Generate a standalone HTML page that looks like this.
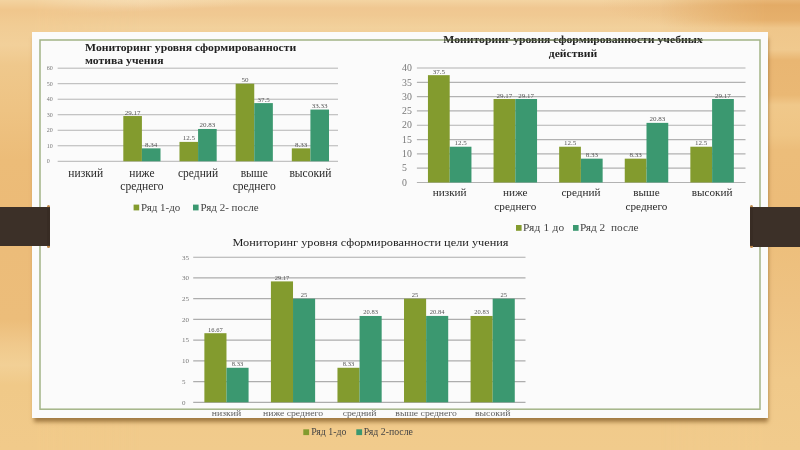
<!DOCTYPE html>
<html><head><meta charset="utf-8"><title>slide</title>
<style>
html,body{margin:0;padding:0;}
body{width:800px;height:450px;overflow:hidden;position:relative;font-family:"Liberation Serif",serif;
background:
 radial-gradient(ellipse 200px 30px at 800px 4px, rgba(214,150,72,0.35), rgba(214,150,72,0) 100%),
 radial-gradient(ellipse 260px 14px at 0px 0px, rgba(250,232,200,0.8), rgba(250,232,200,0) 100%),
 linear-gradient(180deg, #f4d4a2 0px, #f0c791 8px, #f0c992 15px, #f2d19c 28px, #efc98e 45px, #eec487 90px, #ecbf7e 170px, #edc182 250px, #f0c888 330px, #f1ca8a 400px, #f1cb8c 450px);
}
.paper{position:absolute;left:32px;top:32px;width:736px;height:386.3px;background:#fbfbfb;box-shadow:1px 5px 4px -1px rgba(110,70,20,0.6);}
.frame{position:absolute;left:39px;top:39px;width:722px;height:371.2px;border:1.8px solid #aebd95;box-sizing:border-box;}
.ls,.rs{position:absolute;top:0;height:450px;width:140px;}
.ls{left:0;background:linear-gradient(180deg,#f3d3a0 0,#f0c68c 10px,#f1cc94 25px,#f2d09a 45px,#efc88c 65px,#eec383 110px,#ecbc78 160px,#ecbb77 207px,#ecbc79 247px,#ecbd7a 320px,#f0c98c 345px,#f2d096 365px,#f0c988 385px,#f1ca8a 450px);-webkit-mask-image:linear-gradient(90deg,#000 0,#000 34px,transparent 140px);mask-image:linear-gradient(90deg,#000 0,#000 34px,transparent 140px);}
.rs{right:0;background:linear-gradient(180deg,#e8b676 0,#e3ab66 5px,#e6b06c 20px,#efc68a 28px,#f0c98e 50px,#e9b672 60px,#eab874 95px,#f0c88a 105px,#efc585 135px,#ecbd7a 150px,#ecbc79 207px,#edbf7c 247px,#eec282 300px,#f0c98a 380px,#f1cb8c 450px);-webkit-mask-image:linear-gradient(270deg,#000 0,#000 34px,transparent 140px);mask-image:linear-gradient(270deg,#000 0,#000 34px,transparent 140px);}
.tab{position:absolute;background:#3c3028;}
.cap{position:absolute;width:3px;height:42.5px;border-radius:1.5px;background:linear-gradient(180deg,#c08a4c 0,#c08a4c 1.6px,#382c24 2.6px,#382c24 calc(100% - 2.6px),#c08a4c calc(100% - 1.6px),#c08a4c 100%);}
.t{position:absolute;white-space:pre;line-height:1;}
svg{position:absolute;left:0;top:0;}
</style></head><body>
<div class="ls"></div><div class="rs"></div>
<div class="paper"></div>

<svg width="800" height="450" viewBox="0 0 800 450" font-family="Liberation Serif, serif" style="white-space:pre;filter:blur(0.4px)">
<rect x="40" y="40" width="720" height="369.2" fill="none" stroke="#a3b487" stroke-width="1.5"/>
<line x1="57.65" y1="161.30" x2="338.00" y2="161.30" stroke="#b4b4b4" stroke-width="1"/>
<line x1="57.65" y1="145.78" x2="338.00" y2="145.78" stroke="#b4b4b4" stroke-width="1"/>
<line x1="57.65" y1="130.26" x2="338.00" y2="130.26" stroke="#b4b4b4" stroke-width="1"/>
<line x1="57.65" y1="114.74" x2="338.00" y2="114.74" stroke="#b4b4b4" stroke-width="1"/>
<line x1="57.65" y1="99.22" x2="338.00" y2="99.22" stroke="#b4b4b4" stroke-width="1"/>
<line x1="57.65" y1="83.70" x2="338.00" y2="83.70" stroke="#b4b4b4" stroke-width="1"/>
<line x1="57.65" y1="68.18" x2="338.00" y2="68.18" stroke="#b4b4b4" stroke-width="1"/>
<rect x="123.31" y="116.03" width="18.60" height="45.27" fill="#839b2e"/>
<rect x="141.91" y="148.36" width="18.60" height="12.94" fill="#3b9870"/>
<rect x="179.48" y="141.90" width="18.60" height="19.40" fill="#839b2e"/>
<rect x="198.08" y="128.97" width="18.60" height="32.33" fill="#3b9870"/>
<rect x="235.65" y="83.70" width="18.60" height="77.60" fill="#839b2e"/>
<rect x="254.25" y="103.10" width="18.60" height="58.20" fill="#3b9870"/>
<rect x="291.81" y="148.37" width="18.60" height="12.93" fill="#839b2e"/>
<rect x="310.41" y="109.57" width="18.60" height="51.73" fill="#3b9870"/>
<text x="46.80" y="163.30" font-size="6" text-anchor="start" font-weight="normal" fill="#777" letter-spacing="0" >0</text>
<text x="46.80" y="147.78" font-size="6" text-anchor="start" font-weight="normal" fill="#777" letter-spacing="0" >10</text>
<text x="46.80" y="132.26" font-size="6" text-anchor="start" font-weight="normal" fill="#777" letter-spacing="0" >20</text>
<text x="46.80" y="116.74" font-size="6" text-anchor="start" font-weight="normal" fill="#777" letter-spacing="0" >30</text>
<text x="46.80" y="101.22" font-size="6" text-anchor="start" font-weight="normal" fill="#777" letter-spacing="0" >40</text>
<text x="46.80" y="85.70" font-size="6" text-anchor="start" font-weight="normal" fill="#777" letter-spacing="0" >50</text>
<text x="46.80" y="70.18" font-size="6" text-anchor="start" font-weight="normal" fill="#777" letter-spacing="0" >60</text>
<text x="132.60" y="114.53" font-size="7" text-anchor="middle" font-weight="normal" fill="#555" letter-spacing="0" >29.17</text>
<text x="151.21" y="146.86" font-size="7" text-anchor="middle" font-weight="normal" fill="#555" letter-spacing="0" >8.34</text>
<text x="188.78" y="140.40" font-size="7" text-anchor="middle" font-weight="normal" fill="#555" letter-spacing="0" >12.5</text>
<text x="207.38" y="127.47" font-size="7" text-anchor="middle" font-weight="normal" fill="#555" letter-spacing="0" >20.83</text>
<text x="244.94" y="82.20" font-size="7" text-anchor="middle" font-weight="normal" fill="#555" letter-spacing="0" >50</text>
<text x="263.55" y="101.60" font-size="7" text-anchor="middle" font-weight="normal" fill="#555" letter-spacing="0" >37.5</text>
<text x="301.11" y="146.87" font-size="7" text-anchor="middle" font-weight="normal" fill="#555" letter-spacing="0" >8.33</text>
<text x="319.71" y="108.07" font-size="7" text-anchor="middle" font-weight="normal" fill="#555" letter-spacing="0" >33.33</text>
<text x="85.73" y="177.00" font-size="11.5" text-anchor="middle" font-weight="normal" fill="#2a2a2a" letter-spacing="0" >низкий</text>
<text x="141.91" y="177.00" font-size="11.5" text-anchor="middle" font-weight="normal" fill="#2a2a2a" letter-spacing="0" >ниже</text>
<text x="141.91" y="189.50" font-size="11.5" text-anchor="middle" font-weight="normal" fill="#2a2a2a" letter-spacing="0" >среднего</text>
<text x="198.08" y="177.00" font-size="11.5" text-anchor="middle" font-weight="normal" fill="#2a2a2a" letter-spacing="0" >средний</text>
<text x="254.25" y="177.00" font-size="11.5" text-anchor="middle" font-weight="normal" fill="#2a2a2a" letter-spacing="0" >выше</text>
<text x="254.25" y="189.50" font-size="11.5" text-anchor="middle" font-weight="normal" fill="#2a2a2a" letter-spacing="0" >среднего</text>
<text x="310.41" y="177.00" font-size="11.5" text-anchor="middle" font-weight="normal" fill="#2a2a2a" letter-spacing="0" >высокий</text>
<text transform="translate(85.00 50.80) scale(1.045 1)" x="0" y="0" font-size="11.2" text-anchor="start" font-weight="bold" fill="#222" letter-spacing="0" >Мониторинг уровня сформированности</text>
<text transform="translate(85.00 63.80) scale(1.045 1)" x="0" y="0" font-size="11.2" text-anchor="start" font-weight="bold" fill="#222" letter-spacing="0" >мотива учения</text>
<rect x="133.6" y="204.6" width="5.6" height="5.8" fill="#839b2e"/>
<text x="141.00" y="210.60" font-size="11" text-anchor="start" font-weight="normal" fill="#444" letter-spacing="0" >Ряд 1-до</text>
<rect x="193" y="204.6" width="5.6" height="5.8" fill="#3b9870"/>
<text x="200.60" y="210.60" font-size="11" text-anchor="start" font-weight="normal" fill="#444" letter-spacing="0" >Ряд 2- после</text>
<line x1="416.90" y1="182.50" x2="745.50" y2="182.50" stroke="#b2b2b2" stroke-width="1.15"/>
<line x1="416.90" y1="168.19" x2="745.50" y2="168.19" stroke="#b2b2b2" stroke-width="1.15"/>
<line x1="416.90" y1="153.88" x2="745.50" y2="153.88" stroke="#b2b2b2" stroke-width="1.15"/>
<line x1="416.90" y1="139.56" x2="745.50" y2="139.56" stroke="#b2b2b2" stroke-width="1.15"/>
<line x1="416.90" y1="125.25" x2="745.50" y2="125.25" stroke="#b2b2b2" stroke-width="1.15"/>
<line x1="416.90" y1="110.94" x2="745.50" y2="110.94" stroke="#b2b2b2" stroke-width="1.15"/>
<line x1="416.90" y1="96.62" x2="745.50" y2="96.62" stroke="#b2b2b2" stroke-width="1.15"/>
<line x1="416.90" y1="82.31" x2="745.50" y2="82.31" stroke="#b2b2b2" stroke-width="1.15"/>
<line x1="416.90" y1="68.00" x2="745.50" y2="68.00" stroke="#b2b2b2" stroke-width="1.15"/>
<rect x="427.95" y="75.16" width="21.75" height="107.34" fill="#839b2e"/>
<rect x="449.70" y="146.72" width="21.75" height="35.78" fill="#3b9870"/>
<rect x="493.55" y="99.00" width="21.75" height="83.50" fill="#839b2e"/>
<rect x="515.30" y="99.00" width="21.75" height="83.50" fill="#3b9870"/>
<rect x="559.15" y="146.72" width="21.75" height="35.78" fill="#839b2e"/>
<rect x="580.90" y="158.66" width="21.75" height="23.84" fill="#3b9870"/>
<rect x="624.75" y="158.66" width="21.75" height="23.84" fill="#839b2e"/>
<rect x="646.50" y="122.87" width="21.75" height="59.63" fill="#3b9870"/>
<rect x="690.35" y="146.72" width="21.75" height="35.78" fill="#839b2e"/>
<rect x="712.10" y="99.00" width="21.75" height="83.50" fill="#3b9870"/>
<text x="402.00" y="185.70" font-size="9.8" text-anchor="start" font-weight="normal" fill="#777" letter-spacing="0" >0</text>
<text x="402.00" y="171.39" font-size="9.8" text-anchor="start" font-weight="normal" fill="#777" letter-spacing="0" >5</text>
<text x="402.00" y="157.07" font-size="9.8" text-anchor="start" font-weight="normal" fill="#777" letter-spacing="0" >10</text>
<text x="402.00" y="142.76" font-size="9.8" text-anchor="start" font-weight="normal" fill="#777" letter-spacing="0" >15</text>
<text x="402.00" y="128.45" font-size="9.8" text-anchor="start" font-weight="normal" fill="#777" letter-spacing="0" >20</text>
<text x="402.00" y="114.14" font-size="9.8" text-anchor="start" font-weight="normal" fill="#777" letter-spacing="0" >25</text>
<text x="402.00" y="99.83" font-size="9.8" text-anchor="start" font-weight="normal" fill="#777" letter-spacing="0" >30</text>
<text x="402.00" y="85.51" font-size="9.8" text-anchor="start" font-weight="normal" fill="#777" letter-spacing="0" >35</text>
<text x="402.00" y="71.20" font-size="9.8" text-anchor="start" font-weight="normal" fill="#777" letter-spacing="0" >40</text>
<text x="438.82" y="73.66" font-size="7" text-anchor="middle" font-weight="normal" fill="#555" letter-spacing="0" >37.5</text>
<text x="460.57" y="145.22" font-size="7" text-anchor="middle" font-weight="normal" fill="#555" letter-spacing="0" >12.5</text>
<text x="504.42" y="97.50" font-size="7" text-anchor="middle" font-weight="normal" fill="#555" letter-spacing="0" >29.17</text>
<text x="526.17" y="97.50" font-size="7" text-anchor="middle" font-weight="normal" fill="#555" letter-spacing="0" >29.17</text>
<text x="570.02" y="145.22" font-size="7" text-anchor="middle" font-weight="normal" fill="#555" letter-spacing="0" >12.5</text>
<text x="591.77" y="157.16" font-size="7" text-anchor="middle" font-weight="normal" fill="#555" letter-spacing="0" >8.33</text>
<text x="635.62" y="157.16" font-size="7" text-anchor="middle" font-weight="normal" fill="#555" letter-spacing="0" >8.33</text>
<text x="657.37" y="121.37" font-size="7" text-anchor="middle" font-weight="normal" fill="#555" letter-spacing="0" >20.83</text>
<text x="701.22" y="145.22" font-size="7" text-anchor="middle" font-weight="normal" fill="#555" letter-spacing="0" >12.5</text>
<text x="722.97" y="97.50" font-size="7" text-anchor="middle" font-weight="normal" fill="#555" letter-spacing="0" >29.17</text>
<text x="449.70" y="196.30" font-size="11.2" text-anchor="middle" font-weight="normal" fill="#2a2a2a" letter-spacing="0" >низкий</text>
<text x="515.30" y="196.30" font-size="11.2" text-anchor="middle" font-weight="normal" fill="#2a2a2a" letter-spacing="0" >ниже</text>
<text x="515.30" y="209.60" font-size="11.2" text-anchor="middle" font-weight="normal" fill="#2a2a2a" letter-spacing="0" >среднего</text>
<text x="580.90" y="196.30" font-size="11.2" text-anchor="middle" font-weight="normal" fill="#2a2a2a" letter-spacing="0" >средний</text>
<text x="646.50" y="196.30" font-size="11.2" text-anchor="middle" font-weight="normal" fill="#2a2a2a" letter-spacing="0" >выше</text>
<text x="646.50" y="209.60" font-size="11.2" text-anchor="middle" font-weight="normal" fill="#2a2a2a" letter-spacing="0" >среднего</text>
<text x="712.10" y="196.30" font-size="11.2" text-anchor="middle" font-weight="normal" fill="#2a2a2a" letter-spacing="0" >высокий</text>
<text transform="translate(573.00 43.20) scale(1.104 1)" x="0" y="0" font-size="10.6" text-anchor="middle" font-weight="bold" fill="#222" letter-spacing="0" >Мониторинг уровня сформированности учебных</text>
<line x1="444" y1="40.1" x2="703" y2="40.1" stroke="#5f6a4c" stroke-width="1.3" opacity="0.75"/>
<text transform="translate(573.00 57.30) scale(1.045 1)" x="0" y="0" font-size="11.2" text-anchor="middle" font-weight="bold" fill="#222" letter-spacing="0" >действий</text>
<rect x="516" y="225" width="5.6" height="5.8" fill="#839b2e"/>
<text x="523.00" y="231.00" font-size="11.4" text-anchor="start" font-weight="normal" fill="#444" letter-spacing="0.2" >Ряд 1 до</text>
<rect x="573" y="225" width="5.6" height="5.8" fill="#3b9870"/>
<text x="580.00" y="231.00" font-size="11.3" text-anchor="start" font-weight="normal" fill="#444" letter-spacing="0" >Ряд 2&#160;&#160;после</text>
<line x1="193.20" y1="402.30" x2="525.50" y2="402.30" stroke="#adadad" stroke-width="1.2"/>
<line x1="193.20" y1="381.57" x2="525.50" y2="381.57" stroke="#adadad" stroke-width="1.2"/>
<line x1="193.20" y1="360.85" x2="525.50" y2="360.85" stroke="#adadad" stroke-width="1.2"/>
<line x1="193.20" y1="340.12" x2="525.50" y2="340.12" stroke="#adadad" stroke-width="1.2"/>
<line x1="193.20" y1="319.40" x2="525.50" y2="319.40" stroke="#adadad" stroke-width="1.2"/>
<line x1="193.20" y1="298.68" x2="525.50" y2="298.68" stroke="#adadad" stroke-width="1.2"/>
<line x1="193.20" y1="277.95" x2="525.50" y2="277.95" stroke="#adadad" stroke-width="1.2"/>
<line x1="193.20" y1="257.23" x2="525.50" y2="257.23" stroke="#adadad" stroke-width="1.2"/>
<rect x="204.38" y="333.20" width="22.10" height="69.10" fill="#839b2e"/>
<rect x="226.47" y="367.77" width="22.10" height="34.53" fill="#3b9870"/>
<rect x="270.92" y="281.39" width="22.10" height="120.91" fill="#839b2e"/>
<rect x="293.02" y="298.68" width="22.10" height="103.62" fill="#3b9870"/>
<rect x="337.47" y="367.77" width="22.10" height="34.53" fill="#839b2e"/>
<rect x="359.57" y="315.96" width="22.10" height="86.34" fill="#3b9870"/>
<rect x="404.02" y="298.68" width="22.10" height="103.62" fill="#839b2e"/>
<rect x="426.12" y="315.92" width="22.10" height="86.38" fill="#3b9870"/>
<rect x="470.57" y="315.96" width="22.10" height="86.34" fill="#839b2e"/>
<rect x="492.67" y="298.68" width="22.10" height="103.62" fill="#3b9870"/>
<text x="182.00" y="404.60" font-size="7" text-anchor="start" font-weight="normal" fill="#777" letter-spacing="0" >0</text>
<text x="182.00" y="383.88" font-size="7" text-anchor="start" font-weight="normal" fill="#777" letter-spacing="0" >5</text>
<text x="182.00" y="363.15" font-size="7" text-anchor="start" font-weight="normal" fill="#777" letter-spacing="0" >10</text>
<text x="182.00" y="342.43" font-size="7" text-anchor="start" font-weight="normal" fill="#777" letter-spacing="0" >15</text>
<text x="182.00" y="321.70" font-size="7" text-anchor="start" font-weight="normal" fill="#777" letter-spacing="0" >20</text>
<text x="182.00" y="300.98" font-size="7" text-anchor="start" font-weight="normal" fill="#777" letter-spacing="0" >25</text>
<text x="182.00" y="280.25" font-size="7" text-anchor="start" font-weight="normal" fill="#777" letter-spacing="0" >30</text>
<text x="182.00" y="259.53" font-size="7" text-anchor="start" font-weight="normal" fill="#777" letter-spacing="0" >35</text>
<text x="215.42" y="331.70" font-size="6.5" text-anchor="middle" font-weight="normal" fill="#555" letter-spacing="0" >16.67</text>
<text x="237.53" y="366.27" font-size="6.5" text-anchor="middle" font-weight="normal" fill="#555" letter-spacing="0" >8.33</text>
<text x="281.97" y="279.89" font-size="6.5" text-anchor="middle" font-weight="normal" fill="#555" letter-spacing="0" >29.17</text>
<text x="304.07" y="297.18" font-size="6.5" text-anchor="middle" font-weight="normal" fill="#555" letter-spacing="0" >25</text>
<text x="348.52" y="366.27" font-size="6.5" text-anchor="middle" font-weight="normal" fill="#555" letter-spacing="0" >8.33</text>
<text x="370.62" y="314.46" font-size="6.5" text-anchor="middle" font-weight="normal" fill="#555" letter-spacing="0" >20.83</text>
<text x="415.07" y="297.18" font-size="6.5" text-anchor="middle" font-weight="normal" fill="#555" letter-spacing="0" >25</text>
<text x="437.17" y="314.42" font-size="6.5" text-anchor="middle" font-weight="normal" fill="#555" letter-spacing="0" >20.84</text>
<text x="481.62" y="314.46" font-size="6.5" text-anchor="middle" font-weight="normal" fill="#555" letter-spacing="0" >20.83</text>
<text x="503.72" y="297.18" font-size="6.5" text-anchor="middle" font-weight="normal" fill="#555" letter-spacing="0" >25</text>
<text transform="translate(226.47 415.60) scale(1.13 1)" x="0" y="0" font-size="8.6" text-anchor="middle" font-weight="normal" fill="#606060" letter-spacing="0" >низкий</text>
<text transform="translate(293.02 415.60) scale(1.13 1)" x="0" y="0" font-size="8.6" text-anchor="middle" font-weight="normal" fill="#606060" letter-spacing="0" >ниже среднего</text>
<text transform="translate(359.57 415.60) scale(1.13 1)" x="0" y="0" font-size="8.6" text-anchor="middle" font-weight="normal" fill="#606060" letter-spacing="0" >средний</text>
<text transform="translate(426.12 415.60) scale(1.13 1)" x="0" y="0" font-size="8.6" text-anchor="middle" font-weight="normal" fill="#606060" letter-spacing="0" >выше среднего</text>
<text transform="translate(492.67 415.60) scale(1.13 1)" x="0" y="0" font-size="8.6" text-anchor="middle" font-weight="normal" fill="#606060" letter-spacing="0" >высокий</text>
<text transform="translate(232.50 245.50) scale(1.254 1)" x="0" y="0" font-size="9.8" text-anchor="start" font-weight="normal" fill="#1c1c1c" letter-spacing="0" >Мониторинг уровня сформированности цели учения</text>
<rect x="303.3" y="429.3" width="5.8" height="5.8" fill="#839b2e"/>
<text x="311.25" y="435.20" font-size="9.8" text-anchor="start" font-weight="normal" fill="#444" letter-spacing="0" >Ряд 1-до</text>
<rect x="356.3" y="429.3" width="5.8" height="5.8" fill="#3b9870"/>
<text x="363.75" y="435.20" font-size="9.8" text-anchor="start" font-weight="normal" fill="#444" letter-spacing="0" >Ряд 2-после</text>
</svg>
<div class="tab" style="left:0;top:207px;width:48px;height:39px;"></div>
<div class="cap" style="left:47.2px;top:205px;"></div>
<div class="tab" style="left:752px;top:207px;width:48px;height:39.5px;"></div>
<div class="cap" style="left:749.7px;top:205px;height:43px;"></div>
</body></html>
